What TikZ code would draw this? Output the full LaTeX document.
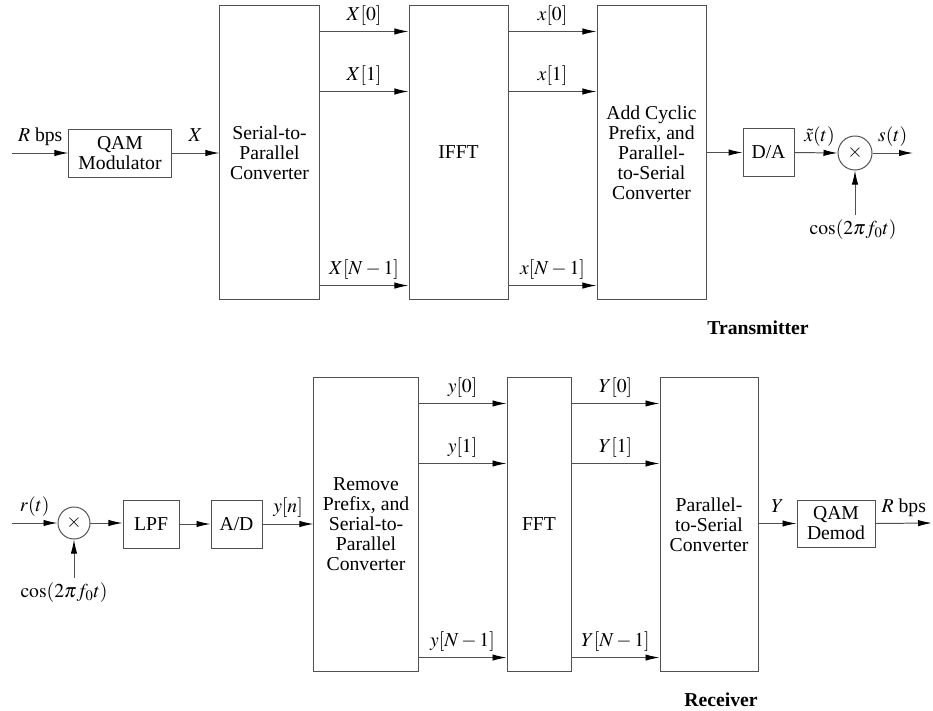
\documentclass[tikz,border=0pt]{standalone}
\usepackage{mathptmx}
\usepackage{fontspec}
\setmainfont{Liberation Serif}
\usepackage{tikz}
\usetikzlibrary{arrows.meta,positioning,calc}
\definecolor{ofdmLine}{RGB}{80,80,80}

\begin{document}
\begin{tikzpicture}[
    x=0.025cm, y=-0.025cm,
    font=\fontsize{14}{14.2}\selectfont,
    box/.style={draw=ofdmLine, line width=0.7pt, align=center, inner sep=2pt},
    small/.style={box, minimum height=1.2cm},
    tall/.style={box, minimum height=7.325cm},
    mix/.style={circle, draw=ofdmLine, line width=0.7pt, minimum size=0.85cm, inner sep=0pt},
    arrow/.style={-{Latex[length=3.5mm, width=1.6mm, color=black]}, line width=0.7pt, draw=ofdmLine},
    lab/.style={anchor=base, yshift=8pt, inner sep=1pt}
  ]
  \useasboundingbox (0,0) rectangle (933,710);

  % transmitter
  \coordinate (inT) at (12,153);
  \node[small, minimum width=2.55cm] (qam) at (120,153) {QAM\\Modulator};
  \node[tall, minimum width=2.475cm] (sp) at (269.5,152.5) {Serial-to-\\Parallel\\Converter};
  \node[tall, minimum width=2.475cm] (ifft) at (458.5,152.5) {IFFT};
  \node[tall, minimum width=2.725cm] (acp) at (651.5,152.5) {Add Cyclic\\Prefix, and\\Parallel-\\to-Serial\\Converter};
  \node[small, minimum width=1.275cm] (da) at (768.5,152.5) {D/A};
  \node[mix] (mixT) at (855,153) {$\times$};
  \node (cosT) at (853,230) {$\cos(2\pi f_0 t)$};
  \coordinate (outT) at (913,153);
  \node at (758,328) {\textbf{Transmitter}};

  \draw[arrow] (inT) -- node[lab] {$R$ bps} (qam.west);
  \draw[arrow] (qam.east) -- node[lab] {$X$} (qam.east -| sp.west);
  \draw[arrow] ([yshift=-0.65cm]sp.north east) -- node[lab] {$X[0]$} ([yshift=-0.65cm]ifft.north west);
  \draw[arrow] ([yshift=-2.15cm]sp.north east) -- node[lab] {$X[1]$} ([yshift=-2.15cm]ifft.north west);
  \draw[arrow] ([yshift=-7cm]sp.north east) -- node[lab] {$X[N-1]$} ([yshift=-7cm]ifft.north west);
  \draw[arrow] ([yshift=-0.65cm]ifft.north east) -- node[lab] {$x[0]$} ([yshift=-0.65cm]acp.north west);
  \draw[arrow] ([yshift=-2.15cm]ifft.north east) -- node[lab] {$x[1]$} ([yshift=-2.15cm]acp.north west);
  \draw[arrow] ([yshift=-7cm]ifft.north east) -- node[lab] {$x[N-1]$} ([yshift=-7cm]acp.north west);
  \draw[arrow] (acp.east |- da) -- (da.west);
  \draw[arrow] (da.east) -- node[lab, pos=0.58] {$\tilde{x}(t)$} (mixT.west);
  \draw[arrow] (mixT.east) -- node[lab] {$s(t)$} (outT);
  \draw[arrow] (cosT.north -| mixT) -- (mixT.south);

  % receiver
  \coordinate (inR) at (12,523);
  \node[mix, minimum size=0.8cm] (mixR) at (74,523) {$\times$};
  \node (cosR) at (64,593) {$\cos(2\pi f_0 t)$};
  \node[small, minimum width=1.4cm] (lpf) at (151,524) {LPF};
  \node[small, minimum width=1.275cm] (ad) at (236.5,524) {A/D};
  \node[tall, minimum width=2.6cm] (rem) at (366,524.5) {Remove\\Prefix, and\\Serial-to-\\Parallel\\Converter};
  \node[tall, minimum width=1.6cm] (fft) at (539,524.5) {FFT};
  \node[tall, minimum width=2.45cm] (ps) at (709,524.5) {Parallel-\\to-Serial\\Converter};
  \node[small, minimum width=1.95cm, minimum height=1.175cm] (demod) at (836,523.5) {QAM\\Demod};
  \coordinate (outR) at (932,523);
  \node at (721,700) {\textbf{Receiver}};

  \draw[arrow] (inR) -- node[lab] {$r(t)$} (mixR.west);
  \draw[arrow] (cosR.north -| mixR) -- (mixR.south);
  \draw[arrow] (mixR.east) -- (mixR.east -| lpf.west);
  \draw[arrow] (lpf.east) -- (ad.west);
  \draw[arrow] (ad.east) -- node[lab] {$y[n]$} (ad.east -| rem.west);
  \draw[arrow] ([yshift=-0.65cm]rem.north east) -- node[lab] {$y[0]$} ([yshift=-0.65cm]fft.north west);
  \draw[arrow] ([yshift=-2.15cm]rem.north east) -- node[lab] {$y[1]$} ([yshift=-2.15cm]fft.north west);
  \draw[arrow] ([yshift=-7cm]rem.north east) -- node[lab] {$y[N-1]$} ([yshift=-7cm]fft.north west);
  \draw[arrow] ([yshift=-0.65cm]fft.north east) -- node[lab] {$Y[0]$} ([yshift=-0.65cm]ps.north west);
  \draw[arrow] ([yshift=-2.15cm]fft.north east) -- node[lab] {$Y[1]$} ([yshift=-2.15cm]ps.north west);
  \draw[arrow] ([yshift=-7cm]fft.north east) -- node[lab] {$Y[N-1]$} ([yshift=-7cm]ps.north west);
  \draw[arrow] (ps.east |- demod) -- node[lab] {$Y$} (demod.west);
  \draw[arrow] (demod.east) -- node[lab] {$R$ bps} (outR);
\end{tikzpicture}
\end{document}
